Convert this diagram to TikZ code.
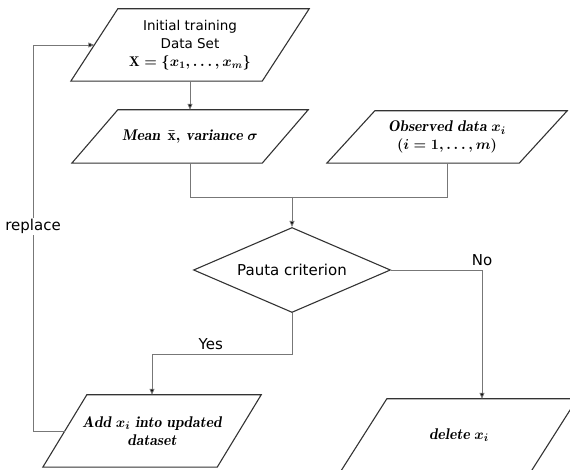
\documentclass[tikz,border=0pt]{standalone}
\usepackage{amsmath}
\usepackage{fontspec}
\setsansfont{DejaVu Sans}
\usepackage{tikz}
\usetikzlibrary{arrows.meta, shapes.geometric}
\definecolor{edge}{HTML}{333333}
\definecolor{wire}{HTML}{777777}
\tikzset{
	databox/.style={rectangle, inner sep=0pt, align=center,
		font=\boldmath\fontsize{15.5}{18}\selectfont},
	boxline/.style={draw=edge, line width=1.1pt, line join=miter},
	decide/.style={diamond, draw=edge, line width=1.1pt, aspect=2.3, inner sep=0pt,
		minimum width=197, minimum height=85, font=\sffamily\fontsize{15}{17}\selectfont},
	wirearr/.style={draw=wire, line width=0.9pt, -{Triangle[length=6pt, width=5pt, fill=black]}},
	wireline/.style={draw=wire, line width=0.9pt},
	tag/.style={font=\sffamily\fontsize{15}{17}\selectfont},
}
\begin{document}
\begin{tikzpicture}[x=1pt, y=1pt]
		\useasboundingbox (0,0) rectangle (570,470);
		\node[databox, minimum width=191, minimum height=72] (init) at (190,425)
			{\sffamily\fontsize{13.5}{16}\selectfont Initial training\\\sffamily\fontsize{13.5}{18}\selectfont Data Set\\\fontsize{14}{18}\selectfont$\mathrm{X}=\{x_1,\dots,x_m\}$};
		\node[databox, minimum width=190, minimum height=53] (mean) at (190,333.5)
			{$\mathit{Mean}\;\,\bar{\mathrm{x}},\,\mathit{variance}\ \sigma$};
		\node[databox, minimum width=192, minimum height=52] (obs) at (447,333)
			{$\mathit{Observed\ data}\ x_i$\\$(i=1,\dots,m)$};
		\node[decide] (pauta) at (292,200) {Pauta criterion};
		\node[databox, minimum width=174, minimum height=72] (add) at (152,39)
			{$\mathit{Add}\ x_i\ \mathit{into\ updated}$\\$\mathit{dataset}$};
		\node[databox, minimum width=190, minimum height=72] (del) at (459,35)
			{$\mathit{delete}\ x_i$};
		\foreach \n/\s in {init/23.5, mean/23, obs/24, add/22, del/23}
			\draw[boxline] ([xshift=\s]\n.north west) -- ([xshift=\s]\n.north east)
				-- ([xshift=-\s]\n.south east) -- ([xshift=-\s]\n.south west) -- cycle;
		\coordinate (join) at (292,273);
		\coordinate (loop) at (33,0);
		\draw[wirearr] (init) -- (mean);
		\draw[wireline] (mean.south) |- (join);
		\draw[wireline] (obs.south) |- (join);
		\draw[wirearr] (join) -- (pauta.north);
		\draw[wirearr] (pauta.south) -- ++(0,-41) -| node[tag, above=1pt, pos=0.29] {Yes} (add.north);
		\draw[wirearr] (pauta.east) -| node[tag, above, pos=0.5] {No} ([xshift=23]del.north);
		\draw[wirearr] (add.west) -- (add.west -| loop) -- node[tag, fill=white, inner sep=1pt, pos=0.53] {replace} (init.west -| loop) -- (init.west);
	\end{tikzpicture}
\end{document}
